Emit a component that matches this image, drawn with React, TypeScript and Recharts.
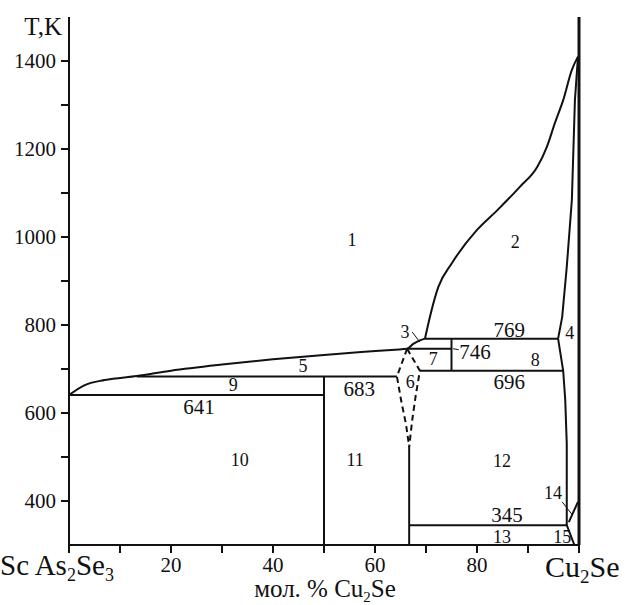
/**
 * PhaseDiagram — As2Se3–Cu2Se T–x section drawn with Recharts.
 */

import { ComposedChart, Line, XAxis, YAxis, ReferenceLine, ReferenceDot } from 'recharts';

const FONT = 'Liberation Serif, serif';
const INK = '#111';

type Pt = [number, number]; // [mol.% Cu2Se, T in K]

// phase boundaries
const liquidusLeft: Pt[] = [
  [0, 641], [3, 663], [7, 675], [13.3, 684], [20, 696], [30, 710], [40, 722],
  [50, 732], [58, 739], [64, 744], [66.3, 746], [67.5, 757], [68.8, 765], [69.8, 769],
];
const liquidusRight: Pt[] = [
  [69.8, 769], [70.8, 820], [72.4, 886], [75.1, 941], [80, 1016], [84, 1061],
  [88.4, 1114], [91.8, 1159], [93.7, 1205], [95.3, 1260], [96.9, 1311], [98.6, 1380], [99.8, 1410],
];
const solidusRight: Pt[] = [[99.8, 1410], [99.2, 1311], [98.6, 1084], [97.6, 932], [96.7, 818], [95.9, 769]];
const solvusRight: Pt[] = [[95.9, 769], [96.9, 696], [97.3, 630], [97.6, 530], [97.6, 345]];
const dashedLeft: Pt[] = [[66.3, 746], [64.3, 683], [65.1, 630], [66.1, 573], [66.7, 523]];
const dashedRight: Pt[] = [[66.3, 746], [68.8, 696], [68.0, 641], [67.3, 584], [66.7, 523]];
const compoundLine: Pt[] = [[66.7, 523], [66.7, 300]];

// invariant horizontals and verticals
const line769: Pt[] = [[69.8, 769], [95.9, 769]];
const line746: Pt[] = [[66.3, 746], [75, 746]];
const line696: Pt[] = [[68.8, 696], [96.9, 696]];
const line683: Pt[] = [[13.3, 683], [64.3, 683]];
const line641: Pt[] = [[0, 641], [50, 641]];
const line345: Pt[] = [[66.7, 345], [97.6, 345]];
const vert75: Pt[] = [[75, 769], [75, 696]];
const vert50: Pt[] = [[50, 683], [50, 300]];
const corner14: Pt[] = [[98.0, 352], [99.8, 398]];
const corner15: Pt[] = [[97.6, 345], [99.1, 300]];

// leader strokes
const lead3: Pt[] = [[67.3, 784], [68.8, 761]];
const lead14: Pt[] = [[96.7, 398], [98.6, 370]];
const lead746: Pt[] = [[75.3, 746], [76.4, 744]];

const regionLabels: [string, number, number][] = [
  ['1', 55.5, 993], ['2', 87.5, 989], ['3', 65.9, 784], ['4', 98.2, 782], ['5', 45.9, 707],
  ['6', 66.9, 670], ['7', 71.4, 723], ['8', 91.4, 720], ['9', 32.2, 664], ['10', 33.5, 493],
  ['11', 56.1, 493], ['12', 84.9, 491], ['13', 84.9, 318], ['14', 94.9, 418], ['15', 96.7, 318],
];
const tempLabels: [string, number, number][] = [
  ['769', 86.3, 789], ['746', 79.6, 739], ['696', 86.3, 670], ['683', 56.9, 655],
  ['641', 25.5, 614], ['345', 85.9, 368],
];

const yTicks = [400, 500, 600, 700, 800, 900, 1000, 1100, 1200, 1300, 1400];
const xTicks = [0, 10, 20, 30, 40, 50, 60, 70, 80, 90, 100];

const segments: { key: string; pts: Pt[]; curve?: boolean; dashed?: boolean; thin?: boolean }[] = [
  { key: 'liqL', pts: liquidusLeft, curve: true },
  { key: 'liqR', pts: liquidusRight, curve: true },
  { key: 'solR', pts: solidusRight },
  { key: 'svR', pts: solvusRight },
  { key: 'dL', pts: dashedLeft, dashed: true },
  { key: 'dR', pts: dashedRight, dashed: true },
  { key: 'cmp', pts: compoundLine },
  { key: 'l769', pts: line769 },
  { key: 'l746', pts: line746 },
  { key: 'l696', pts: line696 },
  { key: 'l683', pts: line683 },
  { key: 'l641', pts: line641 },
  { key: 'l345', pts: line345 },
  { key: 'v75', pts: vert75 },
  { key: 'v50', pts: vert50 },
  { key: 'c14', pts: corner14 },
  { key: 'c15', pts: corner15 },
  { key: 'ld3', pts: lead3, thin: true },
  { key: 'ld14', pts: lead14, thin: true },
  { key: 'ld746', pts: lead746, thin: true },
];

const toRows = (pts: Pt[]) => pts.map(([x, T]) => ({ x, T }));

const txt = { fontFamily: FONT, fill: INK };

function XTick({ x, y, payload }: any) {
  const v = payload.value;
  if (v === 0) {
    return (
      <text x={0} y={y + 20} textAnchor="start" fontSize={29} style={txt} {...txt}>
        Sc As<tspan fontSize={18} dy={6}>2</tspan>
        <tspan dy={-6}>Se</tspan>
        <tspan fontSize={18} dy={6}>3</tspan>
      </text>
    );
  }
  if (v === 100) {
    return (
      <text x={x - 34} y={y + 22} textAnchor="start" fontSize={30} style={txt} {...txt}>
        Cu<tspan fontSize={19} dy={6}>2</tspan>
        <tspan dy={-6}>Se</tspan>
      </text>
    );
  }
  if (v % 20 !== 0) return null;
  return (
    <text x={x} y={y + 17} textAnchor="middle" fontSize={21} style={txt} {...txt}>
      {v}
    </text>
  );
}

function CenterText(text: string, size: number) {
  return ({ viewBox }: any) => (
    <text
      x={viewBox.x + viewBox.width / 2}
      y={viewBox.y + viewBox.height / 2}
      textAnchor="middle"
      dominantBaseline="central"
      fontSize={size}
      style={txt}
      {...txt}
    >
      {text}
    </text>
  );
}

export default function App() {
  return (
    <div style={{ position: 'absolute', left: 0, top: 0, background: '#fff' }}>
      <ComposedChart width={625} height={605} margin={{ top: 17, right: 46, bottom: 30, left: 9 }}>
        <XAxis
          type="number"
          dataKey="x"
          domain={[0, 100]}
          ticks={xTicks}
          height={30}
          tickSize={8}
          axisLine={{ stroke: INK, strokeWidth: 2 }}
          tickLine={{ stroke: INK, strokeWidth: 2 }}
          tick={<XTick />}
          interval={0}
          allowDataOverflow
          label={({ viewBox }: any) => (
            <text x={viewBox.x + 256} y={viewBox.y + 52} textAnchor="middle" fontSize={25} style={txt} {...txt}>
              мол. % Cu<tspan fontSize={15} dy={5}>2</tspan>
              <tspan dy={-5}>Se</tspan>
            </text>
          )}
        />
        <YAxis
          type="number"
          dataKey="T"
          domain={[300, 1500]}
          ticks={yTicks}
          width={60}
          tickSize={8}
          tickMargin={5}
          interval={0}
          allowDataOverflow
          axisLine={{ stroke: INK, strokeWidth: 2 }}
          tickLine={{ stroke: INK, strokeWidth: 2 }}
          tick={{ fill: INK, fontSize: 21, fontFamily: FONT, style: { fontFamily: FONT } }}
          tickFormatter={(v: number) => (v % 200 === 0 ? String(v) : '')}
          label={({ viewBox }: any) => (
            <text x={viewBox.x + viewBox.width - 7} y={viewBox.y + 18} textAnchor="end" fontSize={25} style={txt} {...txt}>
              T,K
            </text>
          )}
        />
        <ReferenceLine x={100} stroke={INK} strokeWidth={3} />
        {segments.map((s) => (
          <Line
            key={s.key}
            data={toRows(s.pts)}
            dataKey="T"
            type={s.curve ? 'monotone' : 'linear'}
            stroke={INK}
            strokeWidth={s.thin ? 1 : 2}
            strokeDasharray={s.dashed ? '6 4' : undefined}
            dot={false}
            activeDot={false}
            legendType="none"
            isAnimationActive={false}
          />
        ))}
        {regionLabels.map(([t, x, T]) => (
          <ReferenceDot key={'r' + t} x={x} y={T} r={0} fill="none" stroke="none" label={CenterText(t, 18)} />
        ))}
        {tempLabels.map(([t, x, T]) => (
          <ReferenceDot key={'t' + t} x={x} y={T} r={0} fill="none" stroke="none" label={CenterText(t, 21)} />
        ))}
      </ComposedChart>
    </div>
  );
}
